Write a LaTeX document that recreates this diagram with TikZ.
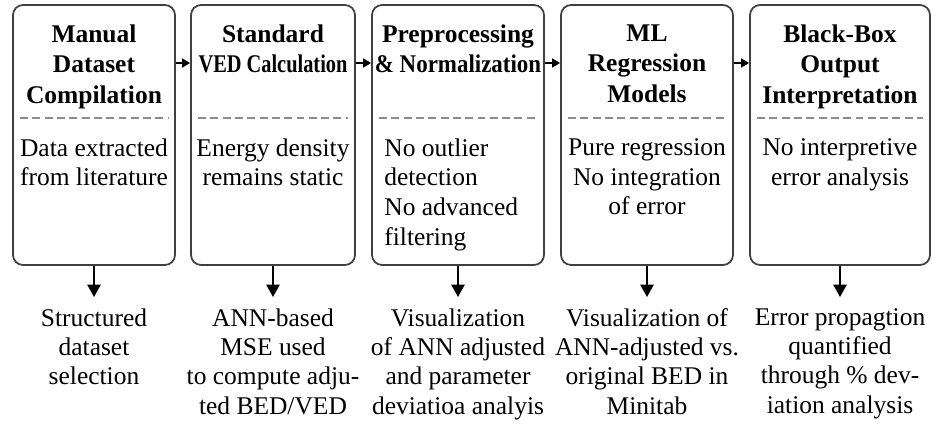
\documentclass[tikz,border=0pt]{standalone}
\usepackage{fontspec}
\usepackage{graphicx}
\setmainfont{Liberation Serif}
\usetikzlibrary{arrows.meta,positioning}
\tikzset{
  stage/.style={draw=black!75, line width=1pt, rounded corners=0.2cm, minimum height=5.2cm, inner sep=0pt},
  ttl/.style={font=\fontsize{14.5}{17.6}\selectfont\bfseries, align=center, inner sep=0pt, anchor=north},
  txt/.style={font=\fontsize{14.5}{17}\selectfont, align=center, inner sep=0pt, anchor=north},
  note/.style={txt, font=\fontsize{14.5}{16.7}\selectfont, inner ysep=0.22cm},
  sep/.style={draw=black!45, dash pattern=on 4.5pt off 2.5pt, line width=0.8pt},
  link/.style={-{Triangle[length=4.5pt,width=5pt]}, line width=1pt},
  flow/.style={-{Triangle[length=7pt,width=7.5pt]}, line width=1pt},
}
\begin{document}
\begin{tikzpicture}[x=0.02cm, y=-0.02cm]
  \useasboundingbox (0,0) rectangle (935,426);

  % stage boxes
  \foreach \i/\cx/\w in {1/94/3.24cm, 2/273/3.28cm, 3/458/3.44cm, 4/647/3.44cm, 5/840/3.6cm}
    \node[stage, minimum width=\w] (b\i) at (\cx,135) {};

  \foreach \i in {1,...,5}
    \draw[sep] ([xshift=0.16cm]b\i.west |- 0,118) -- ([xshift=-0.16cm]b\i.east |- 0,118);

  % titles
  \node[ttl] (t1) at (94,24) {Manual\\Dataset\\Compilation};
  \node[ttl] (t2) at (273,24) {Standard\\\scalebox{0.8}[1]{VED Calculation}};
  \node[ttl] (t3) at (458,24) {Preprocessing\\\scalebox{0.9}[1]{\& Normalization}};
  \node[ttl] (t4) at (647,24) {ML\\Regression\\Models};
  \node[ttl] (t5) at (840,24) {Black-Box\\Output\\Interpretation};

  % limitations
  \node[txt] (d1) at (94,138) {Data extracted\\from literature};
  \node[txt] (d2) at (273,138) {Energy density\\remains static};
  \node[txt, anchor=north west, align=left] (d3) at (384,138) {No outlier\\detection\\No advanced\\filtering};
  \node[txt] (d4) at (647,138) {Pure regression\\No integration\\of error};
  \node[txt] (d5) at (840,138) {No interpretive\\error analysis};

  % outcomes
  \node[note] (n1) at (94,297) {Structured\\dataset\\selection};
  \node[note] (n2) at (273,297) {ANN-based\\MSE used\\to compute adju-\\ted BED/VED};
  \node[note] (n3) at (458,297) {Visualization\\of ANN adjusted\\and parameter\\deviatioa analyis};
  \node[note] (n4) at (647,297) {Visualization of\\ANN-adjusted vs.\\original BED in\\Minitab};
  \node[note] (n5) at (840,297) {Error propagtion\\quantified\\through \% dev-\\iation analysis};

  \foreach \i [count=\j from 2] in {1,...,4}
    \draw[link] (b\i.east |- 0,63) -- (b\j.west |- 0,63);
  \foreach \i in {1,...,5}
    \draw[flow] (b\i.south) -- (n\i.north);
\end{tikzpicture}
\end{document}
